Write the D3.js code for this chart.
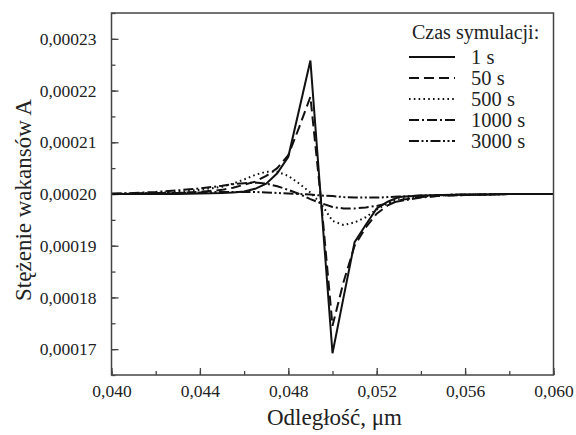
<!DOCTYPE html>
<html><head><meta charset="utf-8">
<script src="https://cdn.jsdelivr.net/npm/d3@7"></script>
<style>body{margin:0;background:#fff}svg{display:block}</style>
</head><body><svg id="c" width="576" height="435" font-family="Liberation Serif"></svg>
<script>
const xValues = [0.040,0.041,0.042,0.043,0.044,0.045,0.0455,0.046,0.0465,0.047,0.0475,0.048,0.0485,0.049,0.0495,0.050,0.0505,0.051,0.0515,0.052,0.0525,0.053,0.054,0.055,0.056,0.057,0.058,0.059,0.060];
const s1 =    [2.000,2.000,2.000,2.000,2.001,2.002,2.003,2.005,2.010,2.020,2.040,2.072,2.165,2.258,1.975,1.692,1.800,1.907,1.940,1.972,1.985,1.994,1.997,1.998,1.999,1.999,2.000,2.000,2.000];
const s50 =   [2.000,2.000,2.001,2.002,2.004,2.008,2.012,2.018,2.024,2.035,2.050,2.075,2.130,2.188,1.980,1.745,1.830,1.900,1.935,1.962,1.978,1.988,1.994,1.997,1.998,1.999,2.000,2.000,2.000];
const s500 =  [2.000,2.001,2.002,2.004,2.008,2.014,2.020,2.028,2.037,2.043,2.043,2.035,2.020,2.003,1.980,1.948,1.940,1.945,1.955,1.970,1.982,1.990,1.995,1.998,1.999,1.999,2.000,2.000,2.000];
const s1000 = [2.000,2.002,2.004,2.007,2.011,2.016,2.019,2.021,2.022,2.020,2.015,2.008,2.000,1.990,1.982,1.975,1.972,1.972,1.974,1.977,1.982,1.986,1.993,1.997,1.998,1.999,2.000,2.000,2.000];
const s3000 = [2.001,2.001,2.002,2.002,2.003,2.004,2.004,2.004,2.004,2.003,2.002,2.001,2.000,1.999,1.997,1.996,1.994,1.993,1.993,1.993,1.994,1.995,1.997,1.998,1.999,1.999,2.000,2.000,2.000];
const valueScale = 1e-4;
const seriesNames = ["1 s","50 s","500 s","1000 s","3000 s"];
const seriesData = [s1,s50,s500,s1000,s3000];
const dashes = [null,"10,5","1.6,3.2","10,3,2,3","10,2.5,2,2.5,2,2.5"];
const xTicks = [0.040,0.044,0.048,0.052,0.056,0.060];
const yTicks = [0.00017,0.00018,0.00019,0.00020,0.00021,0.00022,0.00023];
const xLabel = "Odległość, μm";
const yLabel = "Stężenie wakansów A";
const legendTitle = "Czas symulacji:";

const FONT = "Liberation Serif";
const svg = d3.select("#c");
const L=111.5, R=553.5, T=13, B=375;
const x = d3.scaleLinear().domain([0.040,0.060]).range([L,R]);
const y = d3.scaleLinear().domain([0.000165,0.000235]).range([B,T]);
const fmt = d => d3.format(".5f")(d).replace(".",",");
const fmtx = d => d3.format(".3f")(d).replace(".",",");

const gx = svg.append("g").attr("transform",`translate(0,${B})`);
gx.call(d3.axisBottom(x).tickValues(d3.range(0,11).map(i=>0.040+i*0.002)).tickSize(-4).tickFormat(""));
gx.select(".domain").remove();
const gx2 = svg.append("g").attr("transform",`translate(0,${B})`)
  .call(d3.axisBottom(x).tickValues(xTicks).tickSize(-7).tickPadding(10).tickFormat(fmtx));
gx2.select(".domain").remove();
gx2.attr("font-family",FONT).attr("font-size",17.5);
gx2.selectAll("text").attr("fill","#222");
const gy = svg.append("g").attr("transform",`translate(${L},0)`);
gy.call(d3.axisLeft(y).tickValues(d3.range(0,15).map(i=>0.000165+i*0.000005)).tickSize(-4).tickFormat(""));
gy.select(".domain").remove();
const gy2 = svg.append("g").attr("transform",`translate(${L},0)`)
  .call(d3.axisLeft(y).tickValues(yTicks).tickSize(-7).tickPadding(15).tickFormat(fmt));
gy2.select(".domain").remove();
gy2.attr("font-family",FONT).attr("font-size",17.5);
gy2.selectAll("text").attr("fill","#222");
svg.selectAll(".tick line").attr("stroke","#444").attr("stroke-width",1.3);

const line = d3.line().x((d,i)=>x(xValues[i])).y(d=>y(d*valueScale));
seriesData.forEach((s,k)=>{
  svg.append("path").datum(s).attr("d",line).attr("fill","none").attr("stroke","#111")
    .attr("stroke-width",2).attr("stroke-dasharray",dashes[k]);
});

svg.append("rect").attr("x",L).attr("y",T).attr("width",R-L).attr("height",B-T)
  .attr("fill","none").attr("stroke","#444").attr("stroke-width",1.5);

svg.append("text").attr("x",(L+R)/2+2).attr("y",425).attr("text-anchor","middle")
  .attr("font-family",FONT).attr("font-size",23).attr("fill","#222").text(xLabel);
svg.append("text").attr("transform",`translate(31,${(T+B)/2+6}) rotate(-90)`).attr("text-anchor","middle")
  .attr("font-family",FONT).attr("font-size",23).attr("fill","#222").text(yLabel);

svg.append("text").attr("x",412).attr("y",39).attr("font-family",FONT).attr("font-size",20).attr("fill","#222").text(legendTitle);
seriesNames.forEach((n,k)=>{
  const yy = 57 + k*21;
  svg.append("line").attr("x1",409).attr("x2",455).attr("y1",yy).attr("y2",yy)
    .attr("stroke","#111").attr("stroke-width",2).attr("stroke-dasharray",dashes[k]);
  svg.append("text").attr("x",471).attr("y",yy+7).attr("font-family",FONT).attr("font-size",20.5).attr("fill","#222").text(n);
});
</script></body></html>
